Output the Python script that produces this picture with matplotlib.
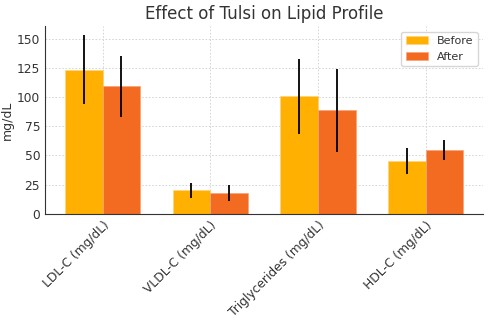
import numpy as np
import matplotlib
matplotlib.use("Agg")
import matplotlib.pyplot as plt

categories = ["LDL-C (mg/dL)", "VLDL-C (mg/dL)", "Triglycerides (mg/dL)", "HDL-C (mg/dL)"]
before_mean = [123.5, 20, 100.5, 45]
before_err = [29.5, 6.2, 32, 11]
after_mean = [109, 17.5, 88.5, 54.7]
after_err = [26.2, 6.9, 35.2, 8.2]

x = np.arange(len(categories))
width = 0.35

fig, ax = plt.subplots(figsize=(4.9, 3.26), dpi=100)
ax.bar(x - width / 2, before_mean, width, yerr=before_err, label="Before",
       color="#FFB000", edgecolor="#FFD27F", linewidth=0.5, ecolor="black",
       error_kw={"elinewidth": 1.3})
ax.bar(x + width / 2, after_mean, width, yerr=after_err, label="After",
       color="#F26B21", edgecolor="#F9A37A", linewidth=0.5, ecolor="black",
       error_kw={"elinewidth": 1.3})

ax.set_title("Effect of Tulsi on Lipid Profile", fontsize=12, color="#333333", pad=5)
ax.set_ylabel("mg/dL", fontsize=9, color="#333333", labelpad=2)
ax.set_xticks(x)
ax.set_xticklabels(categories, rotation=45, ha="right", rotation_mode="anchor",
                   fontsize=8.8, color="#333333")
ax.tick_params(axis="y", labelsize=8.8, labelcolor="#333333", length=0)
ax.tick_params(axis="x", length=0)
ax.grid(True, linestyle=(0, (2, 2)), color="#D0D0D0", linewidth=0.6)
ax.set_axisbelow(True)
for s in ["top", "right"]:
    ax.spines[s].set_visible(False)
ax.spines["left"].set_color("#333333")
ax.spines["bottom"].set_color("#333333")
ax.legend(fontsize=8, loc="upper right", labelcolor="#333333")

fig.subplots_adjust(left=0.092, right=0.986, top=0.92, bottom=0.344)
plt.savefig("out.png")
